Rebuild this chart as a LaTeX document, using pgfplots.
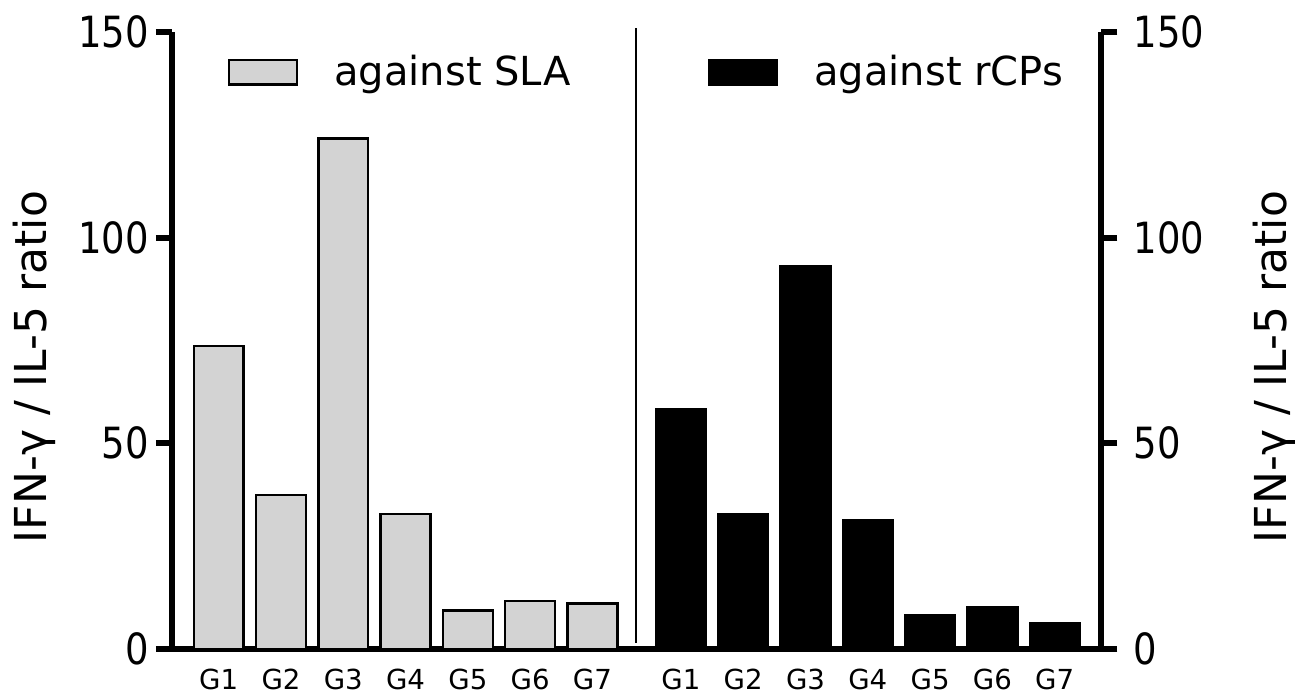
\documentclass[border=0pt]{standalone}
\usepackage{pgfplots}
\pgfplotsset{compat=1.18}
\usepackage{fontspec}
\setmainfont{DejaVu Sans}
\newfontfamily\tickfont[FakeStretch=0.86]{DejaVu Sans}
\definecolor{barGray}{RGB}{211,211,211}

\pgfplotstableread{
x y
1 73.7
2 37.4
3 124.1
4 32.8
5 9.4
6 11.7
7 11.1
}\sla
\pgfplotstableread{
x y
8.42 58.3
9.42 32.7
10.42 93.0
11.42 31.2
12.42 8.1
13.42 10.1
14.42 6.3
}\rcps

\pgfplotsset{
  common/.style={
    scale only axis,
    height=308.5pt,
    ymin=0, ymax=150,
    ytick={0,50,100,150},
    axis x line*=bottom,
    axis line style={line width=3pt, black},
    tick align=outside,
    major tick length=8pt,
    every tick/.style={line width=3pt, black},
    xtick style={draw=none},
    /pgf/number format/assume math mode=true,
    yticklabel style={font=\fontsize{21.5}{21.5}\tickfont, inner sep=0pt},
    xticklabel style={font=\fontsize{13.8}{13.8}\selectfont, inner sep=0pt, anchor=north, yshift=-2pt},
    xticklabels={G1,G2,G3,G4,G5,G6,G7},
    clip=false,
    ybar, bar width=0.8,
    legend style={draw=none, fill=none, inner sep=0pt, outer sep=0pt,
      font=\fontsize{20}{20}\selectfont, nodes={inner sep=0pt}, anchor=west},
    legend image code/.code={\draw[##1, line width=1.2pt] (0pt,-6.2pt) rectangle (33.9pt,6.2pt); \path (52pt,0pt);},
  }
}

\begin{document}
\begin{tikzpicture}
\useasboundingbox (-86pt,-24pt) rectangle (561.5pt,324.5pt);
\begin{axis}[common,
  name=left,
  width=232pt,
  xmin=0.25, xmax=7.70,
  axis y line*=left,
  xtick={1,2,3,4,5,6,7},
  yticklabel style={anchor=east, xshift=-3.5pt},
  legend style={at={(0.1207,0.935)}},
  every axis y label/.style={at={(rel axis cs:0,0.457)}, xshift=-62.5pt, rotate=90, anchor=base, font=\fontsize{22}{22}\selectfont},
  ylabel={IFN-γ / IL-5 ratio},
]
\addplot[fill=barGray, draw=black, line width=1.2pt] table[x=x,y=y] {\sla};
\addlegendentry{against SLA}
\draw[line width=1pt, black] (axis cs:7.70,1.5) -- (axis cs:7.70,151);
\end{axis}
\begin{axis}[common,
  at={(left.south east)}, anchor=south west,
  width=232.7pt,
  xmin=7.70, xmax=15.17,
  axis y line*=right,
  xtick={8.42,9.42,10.42,11.42,12.42,13.42,14.42},
  yticklabel style={anchor=west, xshift=8pt},
  legend style={at={(0.1547,0.935)}},
  every axis y label/.style={at={(rel axis cs:1,0.457)}, xshift=92.5pt, rotate=90, anchor=base, font=\fontsize{22}{22}\selectfont},
  ylabel={IFN-γ / IL-5 ratio},
]
\addplot[fill=black, draw=black, line width=1.2pt] table[x=x,y=y] {\rcps};
\addlegendentry{against rCPs}
\end{axis}
\end{tikzpicture}
\end{document}
